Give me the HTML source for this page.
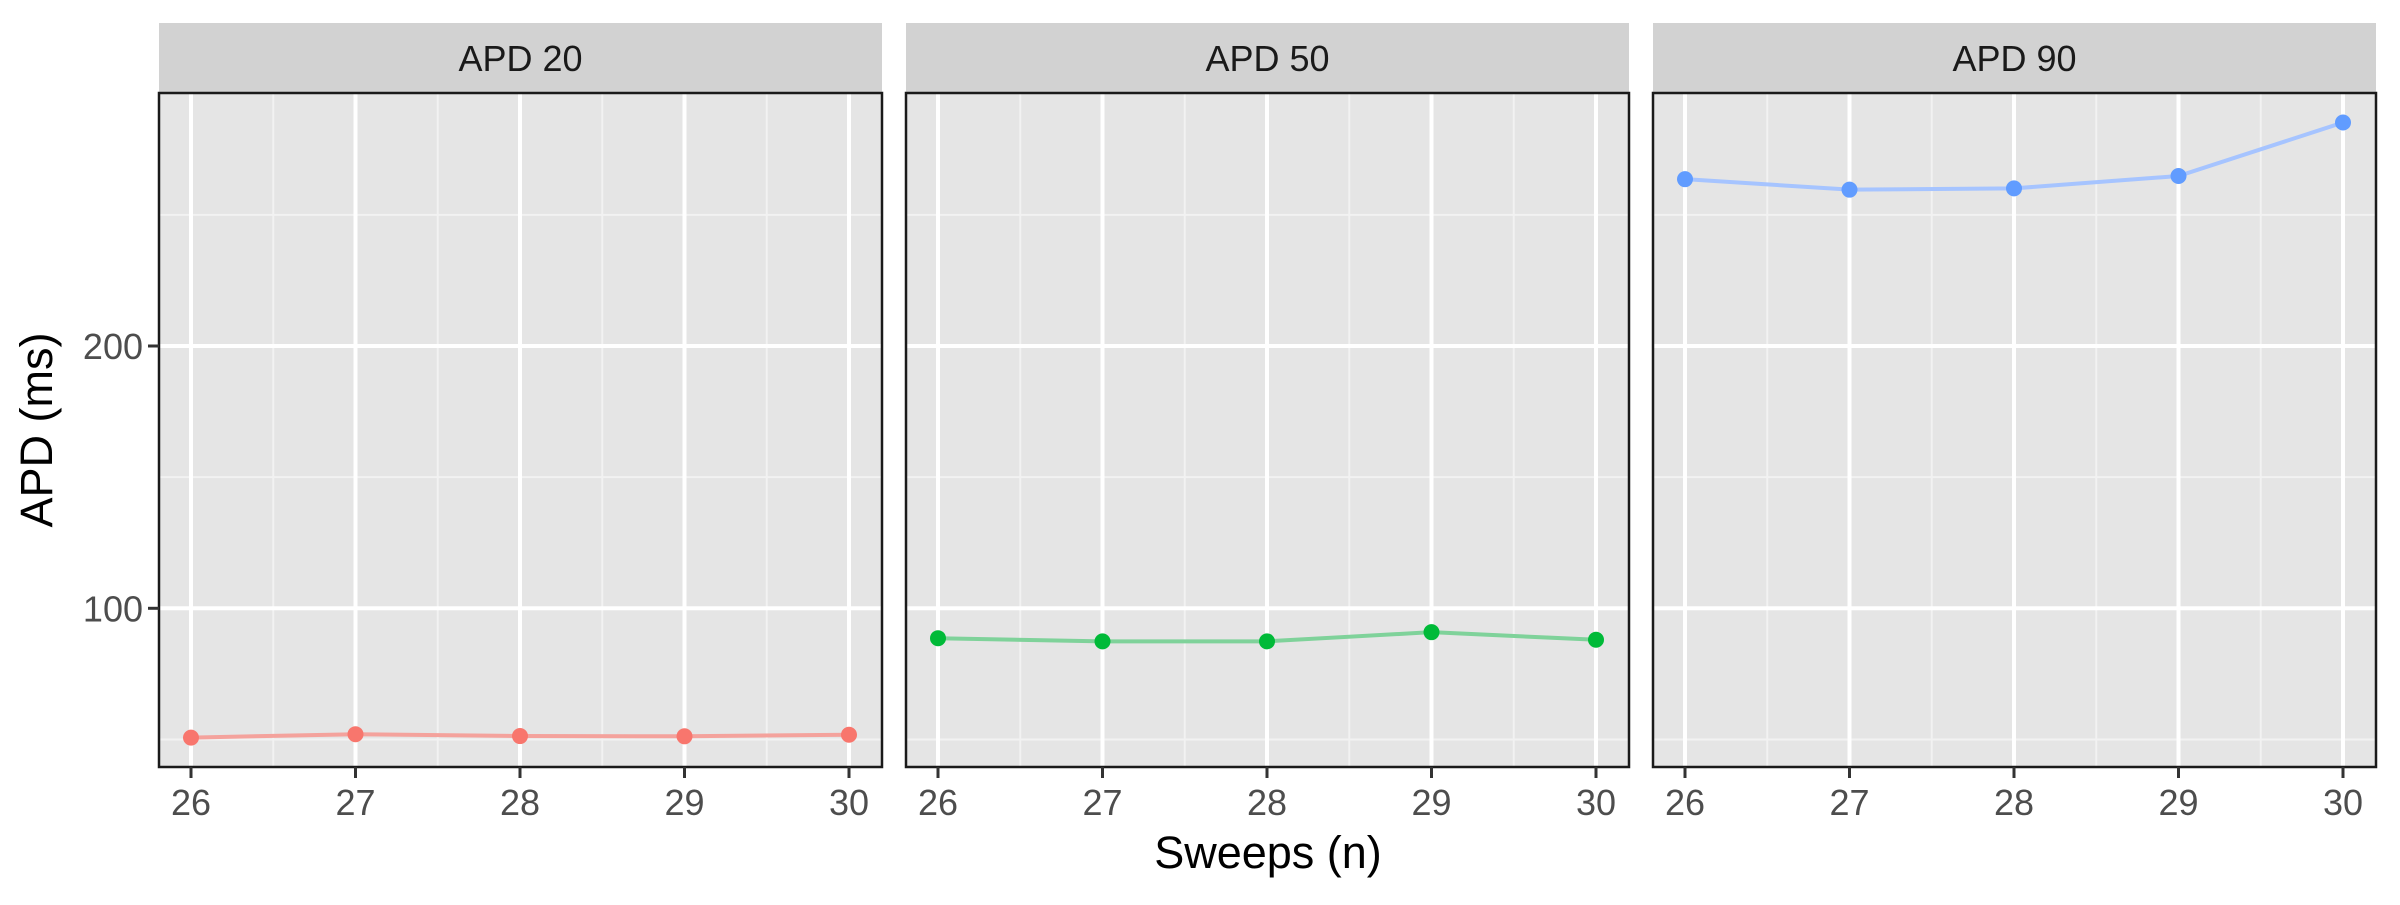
<!DOCTYPE html>
<html><head><meta charset="utf-8"><style>
html,body{margin:0;padding:0;background:#fff;}
svg text{font-family:"Liberation Sans",Arial,sans-serif;}
</style></head><body>
<svg id="chart" width="2400" height="900" xmlns="http://www.w3.org/2000/svg">
<text x="0" y="0" transform="translate(52,430) rotate(-90)" text-anchor="middle" font-size="45" fill="#000">APD (ms)</text>
<text x="1268" y="868" text-anchor="middle" font-size="45" fill="#000">Sweeps (n)</text>
</svg>
<script>
const facets = ["APD 20","APD 50","APD 90"];
const sweeps = [26,27,28,29,30];
const apd20 = [50.7,52.0,51.3,51.2,51.8];
const apd50 = [88.6,87.4,87.4,90.9,88.0];
const apd90 = [263.6,259.6,260.1,264.8,285.2];
const yTicks = [100,200];
const yMinor = [50,150,250];
const xTickLabels = ["26","27","28","29","30"];

const series=[apd20,apd50,apd90];
const pointColors=["#F8766D","#00BA38","#619CFF"];
const lineColors=["#F4A29C","#7FD29A","#A6C4FF"];
const panelLefts=[159,906,1653], pw=723, panelTop=93, panelBottom=767, stripTop=23;
const ns="http://www.w3.org/2000/svg";
const svgEl=document.getElementById('chart');
function yS(v){return 346+(200-v)*2.623;}
function xS(p,v){return panelLefts[p]+32+(v-26)*164.5;}
function mk(tag,attrs){const e=document.createElementNS(ns,tag);for(const k in attrs)e.setAttribute(k,attrs[k]);svgEl.appendChild(e);return e;}
facets.forEach((f,p)=>{
  const L=panelLefts[p];
  const strip=mk('rect',{x:L,y:stripTop,width:pw,height:panelTop-stripTop,fill:'#D2D2D2'});
  
  
  const st=mk('text',{x:L+pw/2,y:(stripTop+panelTop)/2+13,'text-anchor':'middle','font-size':36,fill:'#1a1a1a'});
  st.textContent=f;
  
  
  const bg=mk('rect',{x:L,y:panelTop,width:pw,height:panelBottom-panelTop,fill:'#E5E5E5'});
  
  
  yMinor.forEach(v=>{const g=mk('line',{x1:L,x2:L+pw,y1:yS(v),y2:yS(v),stroke:'#F2F2F2','stroke-width':2});
    });
  for(let i=0;i<sweeps.length-1;i++){const xv=(sweeps[i]+sweeps[i+1])/2;
    const g=mk('line',{x1:xS(p,xv),x2:xS(p,xv),y1:panelTop,y2:panelBottom,stroke:'#F2F2F2','stroke-width':2});
    }
  yTicks.forEach(v=>{const g=mk('line',{x1:L,x2:L+pw,y1:yS(v),y2:yS(v),stroke:'#fff','stroke-width':4});
    });
  sweeps.forEach(v=>{const g=mk('line',{x1:xS(p,v),x2:xS(p,v),y1:panelTop,y2:panelBottom,stroke:'#fff','stroke-width':4});
    });
  const pts=sweeps.map((s,i)=>xS(p,s)+','+yS(series[p][i])).join(' ');
  const pl=mk('polyline',{points:pts,fill:'none',stroke:lineColors[p],'stroke-width':4});
  
  
  sweeps.forEach((s,i)=>{const c=mk('circle',{cx:xS(p,s),cy:yS(series[p][i]),r:8,fill:pointColors[p]});
    });
  const br=mk('rect',{x:L,y:panelTop,width:pw,height:panelBottom-panelTop,fill:'none',stroke:'#1a1a1a','stroke-width':2.5});
  
  
  sweeps.forEach((s,i)=>{
    const t=mk('line',{x1:xS(p,s),x2:xS(p,s),y1:panelBottom,y2:panelBottom+11,stroke:'#333','stroke-width':3});
    
    const tl=mk('text',{x:xS(p,s),y:panelBottom+48,'text-anchor':'middle','font-size':36,fill:'#4d4d4d'});
    tl.textContent=xTickLabels[i];
    
  });
});
yTicks.forEach(v=>{
  const t=mk('line',{x1:148,x2:159,y1:yS(v),y2:yS(v),stroke:'#333','stroke-width':3});
  
  const tl=mk('text',{x:143,y:yS(v)+13,'text-anchor':'end','font-size':36,fill:'#4d4d4d'});
  tl.textContent=String(v);
  
});
</script>
</body></html>
